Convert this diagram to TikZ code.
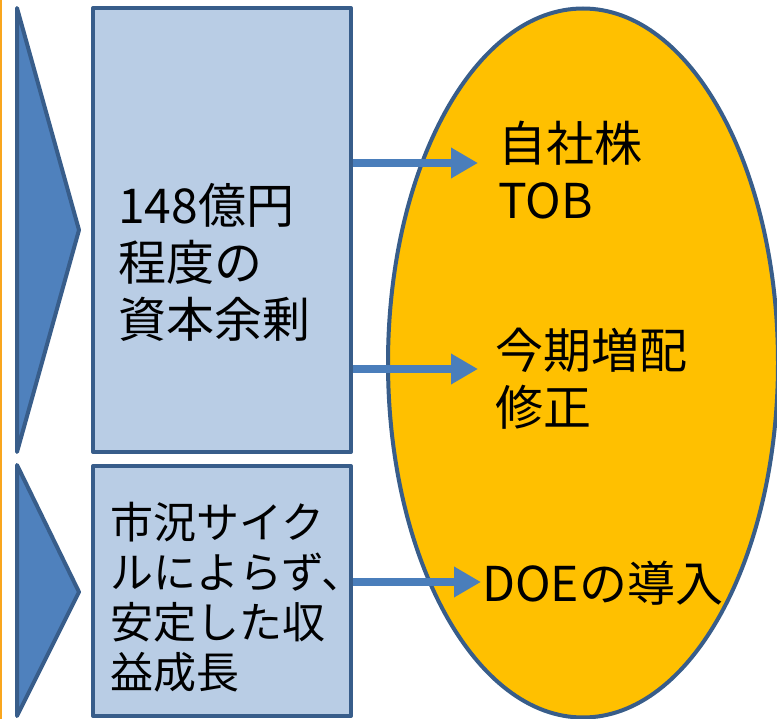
\documentclass[tikz,border=0pt]{standalone}
\usepackage{fontspec}
\newfontfamily\jp{Noto Sans CJK JP}
\usetikzlibrary{shapes.geometric,arrows.meta}
\definecolor{edgeblue}{HTML}{385D8A}
\definecolor{boxfill}{HTML}{B9CDE5}
\definecolor{trifill}{HTML}{4F81BD}
\definecolor{arrowblue}{HTML}{4A7EBB}
\definecolor{ovalfill}{HTML}{FFC000}
\definecolor{sideorange}{HTML}{F9A61E}
\tikzset{
  edgeline/.style={draw=edgeblue, line width=4pt, line join=round},
  boxstyle/.style={edgeline, fill=boxfill, rectangle, inner sep=0pt},
  tristyle/.style={edgeline, fill=trifill},
  ovalstyle/.style={edgeline, fill=ovalfill, ellipse, inner sep=0pt},
  txt/.style={inner sep=0pt, align=left, anchor=west, font=\jp},
  arr/.style={draw=arrowblue, line width=8pt, -{Triangle[length=27pt,width=29pt]}}
}
\begin{document}
\begin{tikzpicture}[x=1pt,y=-1pt]
\useasboundingbox (0,0) rectangle (777,719);
\fill[white] (0,0) rectangle (777,719);
% orange side line
\draw[sideorange, line width=2pt] (1,0) -- (1,719);
% triangles
\draw[tristyle] (17,8) -- (79,230) -- (17,452) -- cycle;
\draw[tristyle] (17,465) -- (79,592) -- (17,716) -- cycle;
% boxes
\node[boxstyle, minimum width=258pt, minimum height=444pt] (box1) at (222,230) {};
\node[boxstyle, minimum width=258pt, minimum height=250pt] (box2) at (222,591) {};
% oval
\node[ovalstyle, minimum width=390pt, minimum height=709pt] (oval) at (583,363) {};
% texts in boxes
\node[txt, font=\jp\fontsize{48}{57}\selectfont] (t1) at (118,262) {148億円\\程度の\\資本余剰};
\node[txt, font=\jp\fontsize{43}{50}\selectfont] (t2) at (110,597) {市況サイク\\ルによらず、\\安定した収\\益成長};
% texts in oval
\node[txt, font=\jp\fontsize{48}{57}\selectfont] (o1) at (498,170) {自社株\\TOB};
\node[txt, font=\jp\fontsize{48}{57}\selectfont] (o2) at (495,379) {今期増配\\修正};
\node[txt, font=\jp\fontsize{48}{57}\selectfont] (o3) at (482,583) {DOEの導入};
% arrow end points
\coordinate (e1) at (478,163);
\coordinate (e2) at (478,369);
\coordinate (e3) at (481,582);
\draw[arr] (box1.east |- e1) -- (e1);
\draw[arr] (box1.east |- e2) -- (e2);
\draw[arr] (box2.east |- e3) -- (e3);
\end{tikzpicture}
\end{document}
